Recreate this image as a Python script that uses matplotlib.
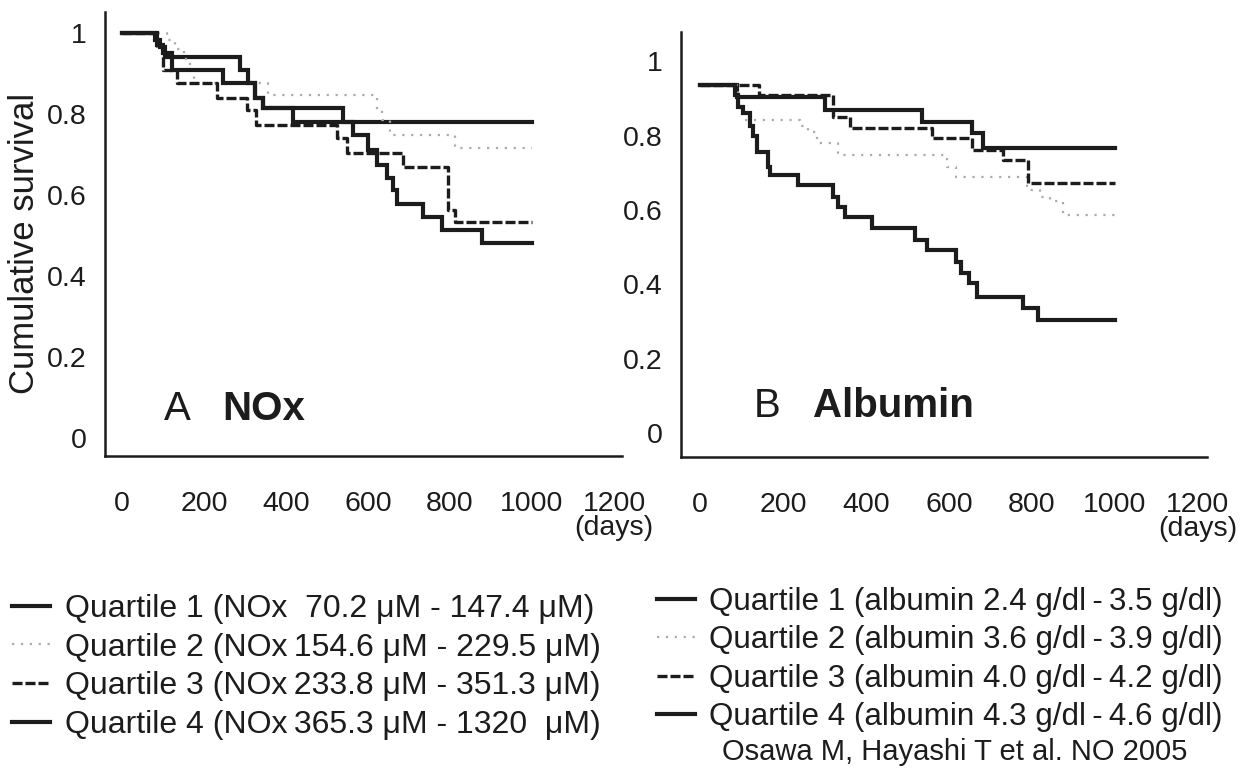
import matplotlib
matplotlib.use('Agg')
import matplotlib.pyplot as plt
from matplotlib.transforms import blended_transform_factory

plt.rcParams['font.family'] = ['Liberation Sans', 'DejaVu Sans']

# ---------------- data ----------------
x_ticks = [0, 200, 400, 600, 800, 1000, 1200]
x_tick_labels = ['0', '200', '400', '600', '800', '1000', '1200']
y_ticks = [0, 0.2, 0.4, 0.6, 0.8, 1.0]
y_tick_labels = ['0', '0.2', '0.4', '0.6', '0.8', '1']

# Panel A: NOx quartiles (days, cumulative survival)
days_A_q1 = [0, 80, 93, 105, 288, 308, 324, 345, 418, 1000]
surv_A_q1 = [1.0, 0.983, 0.966, 0.941, 0.909, 0.876, 0.839, 0.814, 0.781, 0.781]
days_A_q2 = [0, 110, 130, 150, 166, 175, 357, 621, 633, 654, 812, 1000]
surv_A_q2 = [1.0, 0.983, 0.96, 0.935, 0.909, 0.876, 0.847, 0.81, 0.785, 0.748, 0.715, 0.715]
days_A_q3 = [0, 85, 100, 133, 231, 304, 328, 524, 548, 686, 796, 812, 1000]
surv_A_q3 = [1.0, 0.966, 0.909, 0.876, 0.839, 0.81, 0.773, 0.740, 0.703, 0.670, 0.563, 0.534, 0.534]
days_A_q4 = [0, 85, 100, 121, 247, 324, 345, 540, 564, 601, 621, 646, 662, 670, 735, 780, 877, 1000]
surv_A_q4 = [1.0, 0.97, 0.95, 0.909, 0.876, 0.839, 0.814, 0.781, 0.748, 0.711, 0.674, 0.641,
             0.612, 0.579, 0.546, 0.514, 0.482, 0.482]

# Panel B: albumin quartiles
days_B_q1 = [0, 88, 301, 534, 655, 683, 1000]
surv_B_q1 = [0.937, 0.905, 0.869, 0.838, 0.807, 0.766, 0.766]
days_B_q2 = [0, 92, 108, 241, 261, 281, 333, 594, 618, 787, 820, 843, 875, 1000]
surv_B_q2 = [0.937, 0.88, 0.843, 0.825, 0.811, 0.780, 0.748, 0.717, 0.690, 0.654, 0.636, 0.623, 0.587, 0.587]
days_B_q3 = [0, 141, 321, 361, 560, 655, 731, 791, 1000]
surv_B_q3 = [0.937, 0.910, 0.851, 0.820, 0.793, 0.762, 0.735, 0.672, 0.672]
days_B_q4 = [0, 84, 92, 104, 120, 128, 137, 165, 169, 237, 321, 333, 349, 414, 518, 546,
             618, 630, 647, 667, 779, 815, 1000]
surv_B_q4 = [0.937, 0.91, 0.878, 0.86, 0.825, 0.798, 0.757, 0.717, 0.694, 0.668, 0.636, 0.609,
             0.582, 0.551, 0.520, 0.493, 0.461, 0.430, 0.403, 0.367, 0.336, 0.304, 0.304]

labels_A = ['Quartile 1 (NOx  70.2 \u03bcM - 147.4 \u03bcM)',
            'Quartile 2 (NOx\u2009154.6 \u03bcM - 229.5 \u03bcM)',
            'Quartile 3 (NOx\u2009233.8 \u03bcM - 351.3 \u03bcM)',
            'Quartile 4 (NOx\u2009365.3 \u03bcM - 1320  \u03bcM)']
labels_B = ['Quartile 1 (albumin 2.4 g/dl\u2009-\u20093.5 g/dl)',
            'Quartile 2 (albumin 3.6 g/dl\u2009-\u20093.9 g/dl)',
            'Quartile 3 (albumin 4.0 g/dl\u2009-\u20094.2 g/dl)',
            'Quartile 4 (albumin 4.3 g/dl\u2009-\u20094.6 g/dl)']
citation = 'Osawa M, Hayashi T et al. NO 2005'

# ---------------- layout ----------------
W, H = 1249, 782
fig = plt.figure(figsize=(W / 100, H / 100), dpi=100)


def fx(x):
    return x / W


def fy(y):
    return 1 - y / H


INK = '#1c1c1c'
GRAY = '#ababab'
styles = [dict(color=INK, lw=3.0, ls='-'),
          dict(color=GRAY, lw=1.6, ls=(0, (1, 3))),
          dict(color=INK, lw=2.4, ls=(0, (3, 0.9))),
          dict(color=INK, lw=3.0, ls='-')]

axA = fig.add_axes([fx(105), fy(456), (622 - 105) / W, (456 - 12) / H])
axB = fig.add_axes([fx(681), fy(457), (1207 - 681) / W, (457 - 32) / H])

series_A = [(days_A_q1, surv_A_q1), (days_A_q2, surv_A_q2), (days_A_q3, surv_A_q3), (days_A_q4, surv_A_q4)]
series_B = [(days_B_q1, surv_B_q1), (days_B_q2, surv_B_q2), (days_B_q3, surv_B_q3), (days_B_q4, surv_B_q4)]

lines_A, lines_B = [], []
for (d, s), st in zip(series_A, styles):
    ln, = axA.plot(d, s, drawstyle='steps-post', solid_joinstyle='miter', **st)
    lines_A.append(ln)
for (d, s), st in zip(series_B, styles):
    ln, = axB.plot(d, s, drawstyle='steps-post', solid_joinstyle='miter', **st)
    lines_B.append(ln)

axA.set_xlim(-41.5, 1219.5)
axA.set_ylim(-0.0444, 1.052)
axB.set_xlim(-45.8, 1221.7)
axB.set_ylim(-0.0646, 1.079)

for ax in (axA, axB):
    for side in ('top', 'right'):
        ax.spines[side].set_visible(False)
    for side in ('left', 'bottom'):
        ax.spines[side].set_linewidth(1.8)
        ax.spines[side].set_color(INK)
    ax.set_xticks(x_ticks)
    ax.set_xticklabels(x_tick_labels)
    ax.set_yticks(y_ticks)
    ax.set_yticklabels(y_tick_labels)
    ax.tick_params(axis='both', length=0, labelsize=20.5, colors=INK)
    ax.tick_params(axis='x', pad=25)
    ax.tick_params(axis='y', pad=13)
    tr = blended_transform_factory(ax.transData, ax.transAxes)
    ax.annotate('(days)', xy=(1200, 0), xycoords=tr, xytext=(0, -72),
                textcoords='offset pixels', ha='center', va='center', fontsize=20.5, color=INK)

fig.text(fx(25), fy(243), 'Cumulative survival', rotation=90, ha='center', va='center',
         fontsize=25, color=INK)

fig.text(fx(177), fy(420), 'A', ha='center', va='baseline', fontsize=29, color=INK)
fig.text(fx(222), fy(420), 'NOx', ha='left', va='baseline', fontsize=29, weight='bold', color=INK)
fig.text(fx(767), fy(417), 'B', ha='center', va='baseline', fontsize=29, color=INK)
fig.text(fx(813), fy(417), 'Albumin', ha='left', va='baseline', fontsize=29, weight='bold', color=INK)

leg_kw = dict(loc='upper left', frameon=False, handlelength=1.2,
              handletextpad=0.45, labelspacing=0.27, borderpad=0, borderaxespad=0,
              labelcolor=INK)
fig.legend(handles=lines_A, labels=labels_A, bbox_to_anchor=(fx(12), fy(594)), fontsize=23, **leg_kw)
fig.legend(handles=lines_B, labels=labels_B, bbox_to_anchor=(fx(657), fy(587)), fontsize=22.6, **leg_kw)

fig.text(fx(955), fy(752), citation, ha='center', va='center', fontsize=21, color=INK)

fig.savefig('out.png', dpi=100)
